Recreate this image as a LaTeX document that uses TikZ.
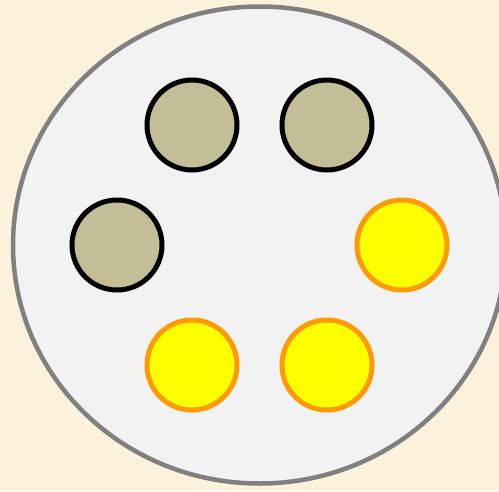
\documentclass[tikz,border=0pt]{standalone}
\usetikzlibrary{shapes.geometric}
\definecolor{bgbeige}{HTML}{FCF1DA}
\definecolor{platefill}{HTML}{F2F2F2}
\definecolor{plateline}{HTML}{808080}
\definecolor{khaki}{HTML}{C3BD98}
\definecolor{dotorange}{HTML}{FF9900}
\definecolor{dotyellow}{HTML}{FFFF00}
\begin{document}
\begin{tikzpicture}[x=1pt,y=-1pt,
  plate/.style={ellipse,draw=plateline,fill=platefill,line width=4.5pt,inner sep=0pt,minimum width=493pt,minimum height=477pt},
  darkdot/.style={circle,draw=black,fill=khaki,line width=5pt,inner sep=0pt,minimum size=90pt},
  litdot/.style={circle,draw=dotorange,fill=dotyellow,line width=5pt,inner sep=0pt,minimum size=90pt}]
\fill[bgbeige] (0,0) rectangle (499,491);
\useasboundingbox (0,0) rectangle (499,491);
\node[plate] (plate) at (259.5,245) {};
\node[darkdot] (d1) at (192,125) {};
\node[darkdot] (d2) at (327,125) {};
\node[darkdot] (d3) at (117,245) {};
\node[litdot] (l1) at (402,245) {};
\node[litdot] (l2) at (192,365) {};
\node[litdot] (l3) at (327,365) {};
\end{tikzpicture}
\end{document}
